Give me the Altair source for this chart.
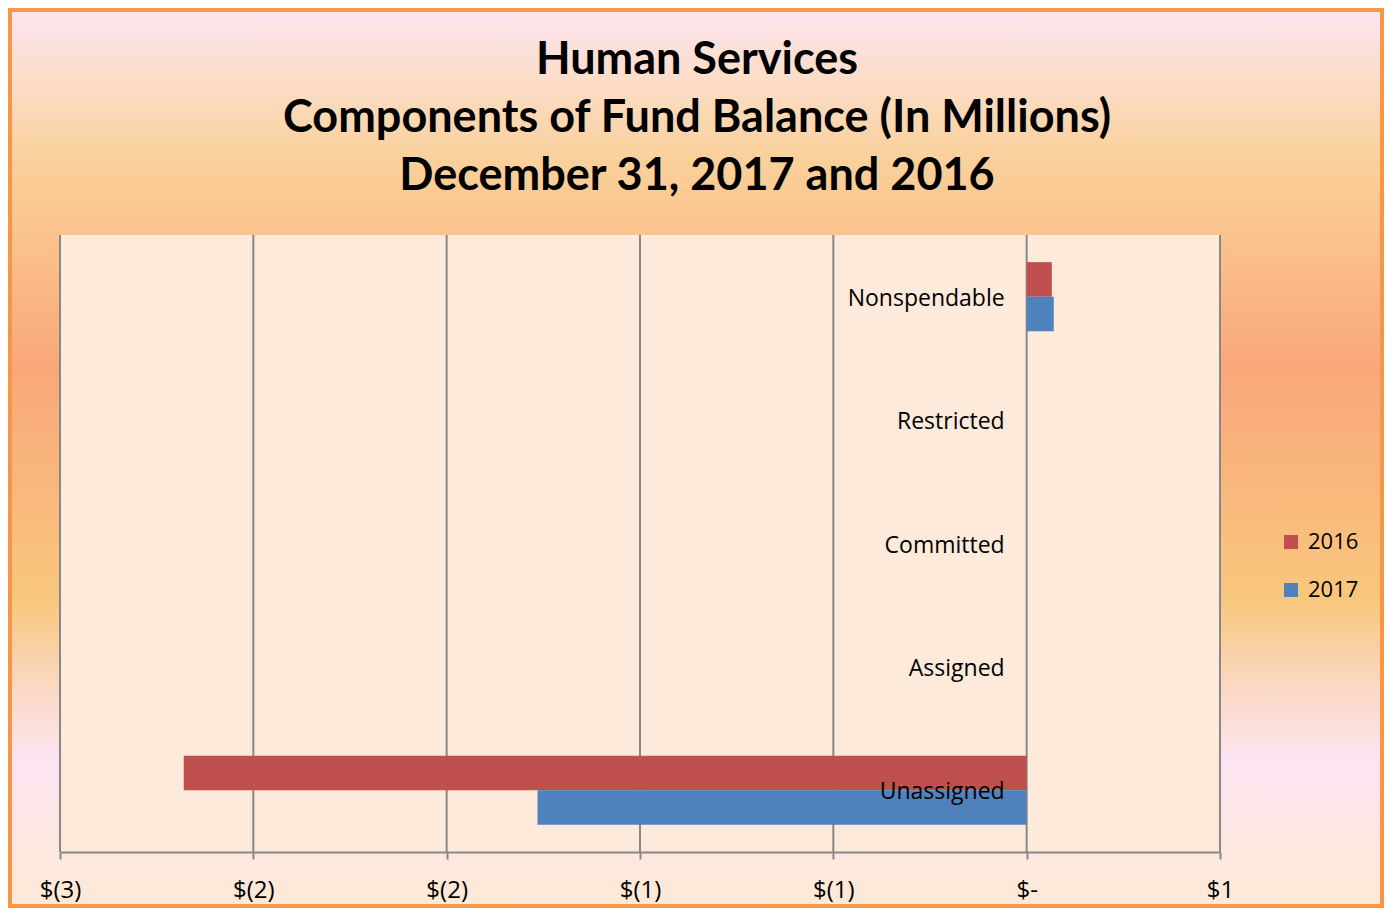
import altair as alt
import pandas as pd

categories = ["Nonspendable", "Restricted", "Committed", "Assigned", "Unassigned"]
years = ["2016", "2017"]
values_2016 = [0.065, 0.0, 0.0, 0.0, -2.18]
values_2017 = [0.07, 0.0, 0.0, 0.0, -1.265]
tick_values = [-2.5, -2.0, -1.5, -1.0, -0.5, 0.0, 0.5]
tick_labels = ["$(3)", "$(2)", "$(2)", "$(1)", "$(1)", "$-", "$1"]
title_lines = ["Human Services", "Components of Fund Balance (In Millions)", "December 31, 2017 and 2016"]
bar_colors = ["#C0504D", "#4F81BD"]

W, H = 1160, 617
PAD = {"left": 52, "top": 227, "right": 164, "bottom": 56}
TOTAL_W = W + PAD["left"] + PAD["right"]
TOTAL_H = H + PAD["top"] + PAD["bottom"]

rows = []
for c, v16, v17 in zip(categories, values_2016, values_2017):
    rows.append({"category": c, "year": "2016", "value": v16})
    rows.append({"category": c, "year": "2017", "value": v17})
df = pd.DataFrame(rows)
cat_df = pd.DataFrame({"category": categories})
tick_df = pd.DataFrame({"value": tick_values})

label_expr = "''"
for v, lab in reversed(list(zip(tick_values, tick_labels))):
    label_expr = f"abs(datum.value - ({v})) < 1e-9 ? '{lab}' : ({label_expr})"

xscale = alt.Scale(domain=[tick_values[0], tick_values[-1]], nice=False, zero=False)
yscale = alt.Scale(domain=categories, paddingInner=0.44, paddingOuter=0.22)
xaxis = alt.Axis(values=tick_values, labelExpr=label_expr, title=None, grid=False,
                 domainColor="#888888", domainWidth=2, tickColor="#888888", tickWidth=2,
                 tickSize=7, labelFontSize=24, labelFont="Open Sans", labelColor="black",
                 labelPadding=19, labelFlush=False, zindex=1)

gradient = alt.Gradient(
    gradient="linear", x1=0, y1=0, x2=0, y2=1,
    stops=[
        alt.GradientStop(color="#FCE5F1", offset=0.0),
        alt.GradientStop(color="#FBDCC2", offset=0.09),
        alt.GradientStop(color="#FAD09A", offset=0.17),
        alt.GradientStop(color="#FBC18C", offset=0.26),
        alt.GradientStop(color="#F9A77A", offset=0.40),
        alt.GradientStop(color="#F9C77E", offset=0.66),
        alt.GradientStop(color="#FAD9C6", offset=0.76),
        alt.GradientStop(color="#FCE5F2", offset=0.84),
        alt.GradientStop(color="#FCE8DE", offset=0.94),
        alt.GradientStop(color="#FCE9D5", offset=1.0),
    ],
)

one = alt.Data(values=[{}])

bg = alt.Chart(one).mark_rect(fill=gradient, stroke="#F79646", strokeWidth=6).encode(
    x=alt.value(-PAD["left"] + 1), x2=alt.value(TOTAL_W - PAD["left"] - 1),
    y=alt.value(-PAD["top"] + 1), y2=alt.value(TOTAL_H - PAD["top"] - 1),
)

plot_bg = alt.Chart(one).mark_rect(fill="#FDEADA").encode(
    x=alt.value(0), x2=alt.value(W), y=alt.value(0), y2=alt.value(H),
)

title = alt.Chart(one).mark_text(
    text=title_lines, fontSize=45, font="Lato", fontWeight="bold", color="black",
    align="center", baseline="alphabetic", lineHeight=58,
).encode(x=alt.value(637), y=alt.value(-161))

grid = alt.Chart(tick_df).mark_rule(color="#888888", strokeWidth=2).encode(
    x=alt.X("value:Q", scale=xscale, axis=xaxis),
)

bars = alt.Chart(df).mark_bar().encode(
    x=alt.X("value:Q", scale=xscale, axis=xaxis),
    y=alt.Y("category:N", sort=categories, scale=yscale, axis=None),
    yOffset=alt.YOffset("year:N", sort=years),
    color=alt.Color("year:N", scale=alt.Scale(domain=years, range=bar_colors),
                    legend=alt.Legend(orient="none", legendX=1220, legendY=296, title=None,
                                      symbolType="square", symbolSize=196, symbolStrokeWidth=0,
                                      labelFontSize=22, labelFont="Open Sans", labelColor="black",
                                      rowPadding=26, labelOffset=6)),
)

labels = alt.Chart(cat_df).mark_text(align="right", baseline="middle", dx=-22, dy=2,
                                      fontSize=23, font="Open Sans",
                                      color="black").encode(
    x=alt.datum(0),
    y=alt.Y("category:N", sort=categories, scale=yscale, axis=None),
    text="category:N",
)

chart = alt.layer(bg, plot_bg, title, grid, bars, labels).properties(
    width=W, height=H,
    padding=PAD,
    autosize=alt.AutoSizeParams(type="none"),
).configure_view(strokeWidth=0).configure(background="#FCE9D5")

chart.save("out.html", embed_options={"renderer": "svg", "actions": False})
